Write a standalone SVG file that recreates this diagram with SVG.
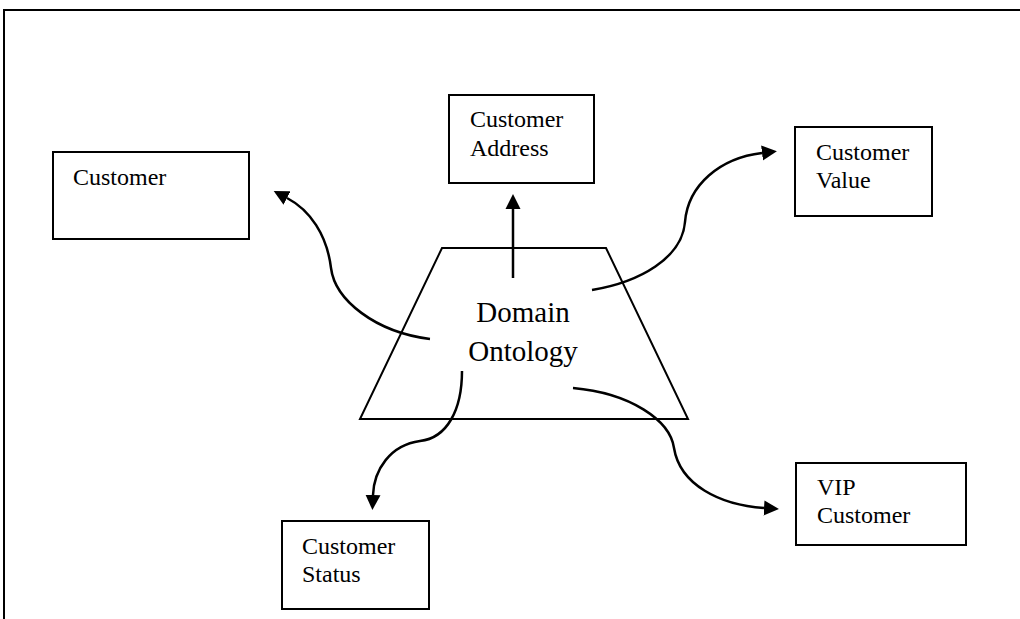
<svg xmlns="http://www.w3.org/2000/svg" width="1020" height="619" viewBox="0 0 1020 619">
  <style>
    .box { fill: #fff; stroke: #000; stroke-width: 2; }
    .lbl { font-family: "Liberation Serif", "Times New Roman", serif; font-size: 24px; fill: #000; }
    .big { font-family: "Liberation Serif", "Times New Roman", serif; font-size: 29px; fill: #000; text-anchor: middle; }
    .conn { fill: none; stroke: #000; stroke-width: 2.5; marker-end: url(#head); }
  </style>
  <defs>
    <marker id="head" markerUnits="userSpaceOnUse" markerWidth="16" markerHeight="16" refX="0" refY="7.5" orient="auto" viewBox="0 0 16 15">
      <path d="M0,0 L15,7.5 L0,15 Z" fill="#000"/>
    </marker>
  </defs>
  <rect width="1020" height="619" fill="#fff"/>
  <!-- page frame -->
  <path d="M4,619 V10 H1020" fill="none" stroke="#000" stroke-width="2"/>

  <g id="domain-ontology">
    <polygon points="442,248 606,248 688,419 360,419" fill="none" stroke="#000" stroke-width="2"/>
    <text class="big" x="523" y="322">Domain</text>
    <text class="big" x="523" y="361">Ontology</text>
  </g>

  <g id="customer">
    <rect class="box" x="53" y="152" width="196" height="87"/>
    <text class="lbl" x="73" y="185">Customer</text>
  </g>

  <g id="customer-address">
    <rect class="box" x="449" y="95" width="145" height="88"/>
    <text class="lbl" x="470" y="127">Customer</text>
    <text class="lbl" x="470" y="156">Address</text>
  </g>

  <g id="customer-value">
    <rect class="box" x="795" y="127" width="137" height="89"/>
    <text class="lbl" x="816" y="160">Customer</text>
    <text class="lbl" x="816" y="188">Value</text>
  </g>

  <g id="vip-customer">
    <rect class="box" x="796" y="463" width="170" height="82"/>
    <text class="lbl" x="817" y="495">VIP</text>
    <text class="lbl" x="817" y="523">Customer</text>
  </g>

  <g id="customer-status">
    <rect class="box" x="282" y="521" width="147" height="88"/>
    <text class="lbl" x="302" y="554">Customer</text>
    <text class="lbl" x="302" y="582">Status</text>
  </g>

  <g id="connectors">
    <path class="conn" d="M513,278 V209"/>
    <path class="conn" d="M430,339 C375,332 335,300 331,268 C327,235 310,210 287,198"/>
    <path class="conn" d="M592,290 C640,282 682,258 685,222 C688,185 720,158 762,153"/>
    <path class="conn" d="M462,371 C462,410 447,438 420,441 C390,445 374,470 373,495"/>
    <path class="conn" d="M573,388 C630,393 670,420 674,448 C680,485 720,505 764,508"/>
  </g>
</svg>
